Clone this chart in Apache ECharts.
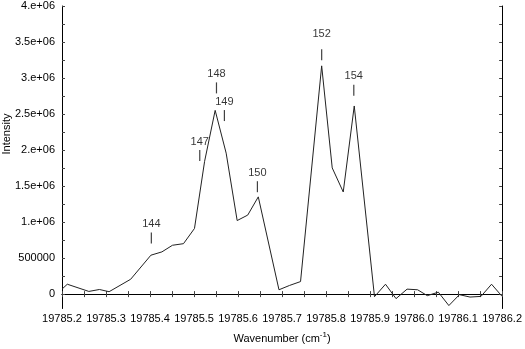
<!DOCTYPE html>
<html>
<head>
<meta charset="utf-8">
<script src="https://cdn.jsdelivr.net/npm/echarts@6/dist/echarts.min.js"></script>
<style>
  html, body { margin: 0; padding: 0; background: #fff; }
  #chart { width: 525px; height: 349px; }
</style>
</head>
<body>
<div id="chart"></div>
<script>
// spectrum
var wavenumber = [19785.200, 19785.212, 19785.261, 19785.285, 19785.307, 19785.356, 19785.402,
    19785.427, 19785.451, 19785.476, 19785.501, 19785.524, 19785.548, 19785.573, 19785.598,
    19785.622, 19785.646, 19785.693, 19785.717, 19785.742, 19785.790, 19785.814, 19785.839,
    19785.864, 19785.910, 19785.935, 19785.959, 19785.984, 19786.008, 19786.030, 19786.055,
    19786.079, 19786.103, 19786.127, 19786.152, 19786.176, 19786.200];
var intensity = [69000, 137000, 37000, 64000, 33000, 206000, 540000,
    586000, 678000, 700000, 911000, 1843000, 2551000, 1957000, 1021000,
    1097000, 1350000, 60000, 120000, 174000, 3169000, 1752000, 1418000,
    2612000, -36000, 137000, -63000, 69000, 60000, -22000, 27000,
    -159000, -8000, -41000, -32000, 137000, -32000];

// peak markers (label, x, y of the little tick)
var peakLabels = ['144', '147', '148', '149', '150', '152', '154'];
var peakX = [19785.403, 19785.513, 19785.551, 19785.569, 19785.644, 19785.790, 19785.863];
var peakY = [778000, 1923000, 2863000, 2479000, 1491000, 3322000, 2831000];

var yLabelValues = [0, 500000, 1000000, 1500000, 2000000, 2500000, 3000000, 3500000, 4000000];
var yLabelTexts = ['0', '500000', '1.e+06', '1.5e+06', '2.e+06', '2.5e+06', '3.e+06', '3.5e+06', '4.e+06'];
var yTickValues = [];
for (var v = 0; v <= 4000000; v += 250000) yTickValues.push(v);

var FONT = '"Liberation Sans", Arial, sans-serif';

var chart = {
    render: function () {
        var myChart = echarts.init(document.getElementById('chart'));

        var lineData = wavenumber.map(function (x, i) { return [x, intensity[i]]; });
        var peakData = peakLabels.map(function (t, i) {
            var item = { value: [peakX[i], peakY[i]], name: t };
            // the 152 label sits a bit higher above its tick
            if (t === '152') item.label = { distance: 10 };
            return item;
        });

        var tickStyle = { show: true, inside: true, length: 3, lineStyle: { color: '#444', width: 1 } };

        var option = {
            animation: false,
            backgroundColor: '#fff',
            grid: { left: 62, right: 18, top: 6, bottom: 37 },
            xAxis: [
                {
                    type: 'value',
                    position: 'bottom',
                    min: 19785.2,
                    max: 19786.2,
                    interval: 0.05,
                    axisLine: { show: true, lineStyle: { color: '#000', width: 1 } },
                    axisTick: tickStyle,
                    splitLine: { show: false },
                    axisLabel: {
                        margin: 5,
                        color: '#000',
                        fontFamily: FONT,
                        fontSize: 11,
                        formatter: function (val) {
                            var r = Math.round(val * 100);
                            if (r % 10 !== 0) return '';
                            return (r / 100).toFixed(1);
                        }
                    },
                    name: '{n|Wavenumber (cm}{s|-1}{n|)}',
                    nameLocation: 'middle',
                    nameGap: 22,
                    nameTextStyle: {
                        color: '#000',
                        fontFamily: FONT,
                        rich: {
                            n: { fontSize: 11, fontFamily: FONT, color: '#000' },
                            s: { fontSize: 8, fontFamily: FONT, color: '#000', padding: [0, 0, 8, 0] }
                        }
                    }
                },
                {
                    type: 'value',
                    position: 'top',
                    min: 19785.2,
                    max: 19786.2,
                    interval: 0.05,
                    axisLine: { show: true, lineStyle: { color: '#000', width: 1 } },
                    axisTick: tickStyle,
                    axisLabel: { show: false },
                    splitLine: { show: false }
                }
            ],
            yAxis: [
                {
                    type: 'value',
                    position: 'left',
                    min: -200000,
                    max: 4000000,
                    axisLine: { show: true, lineStyle: { color: '#000', width: 1 } },
                    axisTick: {
                        show: true, inside: true, length: 3,
                        customValues: yTickValues,
                        lineStyle: { color: '#444', width: 1 }
                    },
                    splitLine: { show: false },
                    axisLabel: {
                        customValues: yLabelValues,
                        margin: 7,
                        color: '#000',
                        fontFamily: FONT,
                        fontSize: 11,
                        formatter: function (val) {
                            var idx = yLabelValues.indexOf(val);
                            return idx >= 0 ? yLabelTexts[idx] : '';
                        }
                    }
                },
                {
                    type: 'value',
                    position: 'right',
                    min: -200000,
                    max: 4000000,
                    axisLine: { show: true, lineStyle: { color: '#000', width: 1 } },
                    axisTick: {
                        show: true, inside: true, length: 3,
                        customValues: yTickValues,
                        lineStyle: { color: '#444', width: 1 }
                    },
                    axisLabel: { show: false },
                    splitLine: { show: false }
                }
            ],
            graphic: [
                {
                    type: 'text',
                    x: 7,
                    y: 134,
                    rotation: Math.PI / 2,
                    style: {
                        text: 'Intensity',
                        fill: '#000',
                        font: '11px ' + FONT,
                        textAlign: 'center',
                        textVerticalAlign: 'middle'
                    }
                }
            ],
            series: [
                {
                    name: 'spectrum',
                    type: 'line',
                    data: lineData,
                    showSymbol: false,
                    symbol: 'none',
                    lineStyle: { color: '#222', width: 1 },
                    clip: true
                },
                {
                    name: 'peaks',
                    type: 'scatter',
                    data: peakData,
                    symbol: 'rect',
                    symbolSize: [1.2, 11],
                    itemStyle: { color: '#111' },
                    label: {
                        show: true,
                        position: 'top',
                        distance: 3,
                        formatter: '{b}',
                        color: '#000',
                        fontFamily: FONT,
                        fontSize: 11
                    }
                }
            ]
        };

        myChart.setOption(option);

        window.addEventListener('resize', function () {
            myChart.resize();
        });
    }
};

chart.render();
</script>
</body>
</html>
